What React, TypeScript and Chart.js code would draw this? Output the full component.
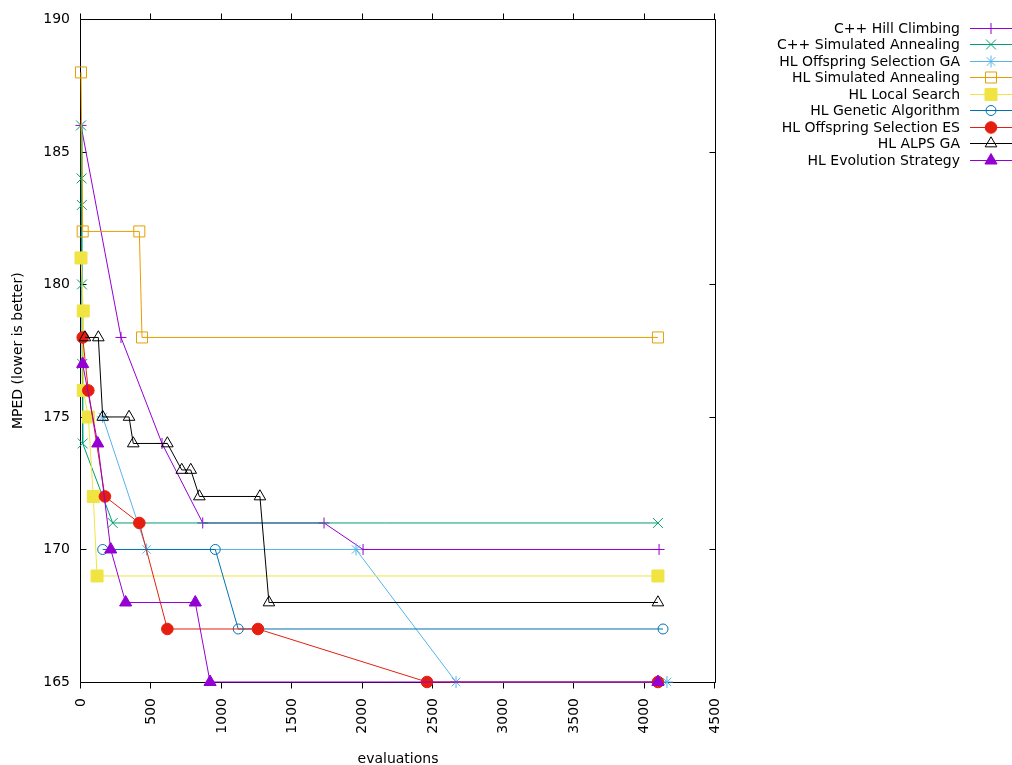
import React, { useEffect, useRef } from 'react';
import { Chart, registerables } from 'chart.js';

Chart.register(...registerables);

const FONT_FAMILY = '"DejaVu Sans", "Liberation Sans", sans-serif';
const FONT_SIZE = 14;

// Axis ticks
const xTickValues = [0, 500, 1000, 1500, 2000, 2500, 3000, 3500, 4000, 4500];
const yTickValues = [165, 170, 175, 180, 185, 190];

// Series names, in legend order
const seriesNames = [
  'C++ Hill Climbing',
  'C++ Simulated Annealing',
  'HL Offspring Selection GA',
  'HL Simulated Annealing',
  'HL Local Search',
  'HL Genetic Algorithm',
  'HL Offspring Selection ES',
  'HL ALPS GA',
  'HL Evolution Strategy',
];

// Best MPED found after a given number of evaluations
const hillClimbingEvals = [0, 284, 575, 864, 1725, 2002, 4103];
const hillClimbingMped = [186, 178, 174, 171, 171, 170, 170];

const cppAnnealingEvals = [0, 4, 6, 7, 9, 12, 225, 4095];
const cppAnnealingMped = [186, 184, 183, 180, 177, 174, 171, 171];

const osGaEvals = [154, 466, 1952, 2662, 4159];
const osGaMped = [175, 170, 170, 165, 165];

const hlAnnealingEvals = [0, 12, 414, 433, 4095];
const hlAnnealingMped = [188, 182, 182, 178, 178];

const localSearchEvals = [0, 16, 16, 52, 87, 114, 4095];
const localSearchMped = [181, 179, 176, 175, 172, 169, 169];

const geneticEvals = [154, 953, 1116, 4131];
const geneticMped = [170, 170, 167, 167];

const osEsEvals = [12, 52, 170, 414, 613, 1256, 2456, 4095];
const osEsMped = [178, 176, 172, 171, 167, 167, 165, 165];

const alpsEvals = [28, 123, 154, 341, 371, 613, 715, 779, 840, 1270, 1334, 4095];
const alpsMped = [178, 178, 175, 175, 174, 174, 173, 173, 172, 172, 168, 168];

const evoStrategyEvals = [12, 119, 211, 317, 811, 916, 4095];
const evoStrategyMped = [177, 174, 170, 168, 168, 165, 165];

const seriesEvals = [
  hillClimbingEvals, cppAnnealingEvals, osGaEvals, hlAnnealingEvals, localSearchEvals,
  geneticEvals, osEsEvals, alpsEvals, evoStrategyEvals,
];
const seriesMped = [
  hillClimbingMped, cppAnnealingMped, osGaMped, hlAnnealingMped, localSearchMped,
  geneticMped, osEsMped, alpsMped, evoStrategyMped,
];

// Styling per series
const seriesColors = [
  '#9400d3', '#009e73', '#56b4e9', '#e69f00', '#f0e442',
  '#0072b2', '#e51e10', '#000000', '#9400d3',
];
const markerStyles = ['cross', 'crossRot', 'star', 'rect', 'rect', 'circle', 'circle', 'triangle', 'triangle'];
const markerFilled = [false, false, false, false, true, false, true, false, true];
const markerRadius = [5.5, 7, 6, 7.8, 8.5, 5, 5.8, 6.7, 7];

function drawMarker(
  ctx: CanvasRenderingContext2D, style: string, x: number, y: number, r: number,
  color: string, filled: boolean,
) {
  ctx.save();
  ctx.strokeStyle = color;
  ctx.fillStyle = color;
  ctx.lineWidth = 1;
  ctx.beginPath();
  const d = r * Math.SQRT1_2;
  switch (style) {
    case 'cross':
      ctx.moveTo(x - r, y); ctx.lineTo(x + r, y);
      ctx.moveTo(x, y - r); ctx.lineTo(x, y + r);
      ctx.stroke();
      break;
    case 'crossRot':
      ctx.moveTo(x - d, y - d); ctx.lineTo(x + d, y + d);
      ctx.moveTo(x - d, y + d); ctx.lineTo(x + d, y - d);
      ctx.stroke();
      break;
    case 'star':
      ctx.moveTo(x - r, y); ctx.lineTo(x + r, y);
      ctx.moveTo(x, y - r); ctx.lineTo(x, y + r);
      ctx.moveTo(x - d, y - d); ctx.lineTo(x + d, y + d);
      ctx.moveTo(x - d, y + d); ctx.lineTo(x + d, y - d);
      ctx.stroke();
      break;
    case 'rect':
      ctx.rect(x - d, y - d, 2 * d, 2 * d);
      if (filled) ctx.fill();
      ctx.stroke();
      break;
    case 'circle':
      ctx.arc(x, y, r, 0, Math.PI * 2);
      if (filled) ctx.fill();
      ctx.stroke();
      break;
    case 'triangle': {
      let a = 0;
      ctx.moveTo(x + Math.sin(a) * r, y - Math.cos(a) * r);
      a += (2 * Math.PI) / 3;
      ctx.lineTo(x + Math.sin(a) * r, y - Math.cos(a) * r);
      a += (2 * Math.PI) / 3;
      ctx.lineTo(x + Math.sin(a) * r, y - Math.cos(a) * r);
      ctx.closePath();
      if (filled) ctx.fill();
      ctx.stroke();
      break;
    }
  }
  ctx.restore();
}

// Border box with outward x tics, inward y tics, plus axis titles
const framePlugin = {
  id: 'frame',
  beforeDatasetsDraw(chart: any) {
    const { ctx, chartArea, scales } = chart;
    const { left, right, top, bottom } = chartArea;
    const L = Math.round(left) - 0.5;
    const R = Math.round(right) + 0.5;
    const T = Math.round(top) + 0.5;
    const B = Math.round(bottom) + 0.5;
    ctx.save();
    ctx.strokeStyle = '#000';
    ctx.lineWidth = 1;
    ctx.beginPath();
    ctx.rect(L, T, R - L, B - T);
    const tick = 6;
    xTickValues.forEach((v) => {
      const px = Math.round(scales.x.getPixelForValue(v)) - 0.5;
      ctx.moveTo(px, B); ctx.lineTo(px, B + tick);
      ctx.moveTo(px, T); ctx.lineTo(px, T - tick);
    });
    yTickValues.forEach((v) => {
      const py = Math.round(scales.y.getPixelForValue(v)) + 0.5;
      ctx.moveTo(L, py); ctx.lineTo(L + tick, py);
      ctx.moveTo(R, py); ctx.lineTo(R - tick, py);
    });
    ctx.stroke();

    ctx.fillStyle = '#000';
    ctx.font = `${FONT_SIZE}px ${FONT_FAMILY}`;
    ctx.textAlign = 'center';
    ctx.textBaseline = 'middle';
    ctx.fillText('evaluations', (left + right) / 2, 759);
    ctx.translate(18, (top + bottom) / 2);
    ctx.rotate(-Math.PI / 2);
    ctx.fillText('MPED (lower is better)', 0, 0);
    ctx.restore();
  },
};

// Key at the top right: right-aligned text, then a line sample with its marker
const keyPlugin = {
  id: 'key',
  afterDraw(chart: any) {
    const { ctx } = chart;
    ctx.save();
    ctx.font = `${FONT_SIZE}px ${FONT_FAMILY}`;
    ctx.textAlign = 'right';
    ctx.textBaseline = 'middle';
    seriesNames.forEach((name, i) => {
      const y = Math.round(28 + i * 16.46);
      ctx.fillStyle = '#000';
      ctx.fillText(name, 960, y + 1);
      ctx.strokeStyle = seriesColors[i];
      ctx.lineWidth = 1;
      ctx.beginPath();
      ctx.moveTo(970, y + 0.5);
      ctx.lineTo(1012, y + 0.5);
      ctx.stroke();
      drawMarker(ctx, markerStyles[i], 991, y + 0.5, markerRadius[i], seriesColors[i], markerFilled[i]);
    });
    ctx.restore();
  },
};

export default function App() {
  const canvasRef = useRef<HTMLCanvasElement>(null);

  useEffect(() => {
    document.body.style.margin = '0';
    const canvas = canvasRef.current;
    if (!canvas) return;

    const datasets = seriesNames.map((name, i) => ({
      label: name,
      data: seriesEvals[i].map((x, j) => ({ x, y: seriesMped[i][j] })),
      borderColor: seriesColors[i],
      backgroundColor: markerFilled[i] ? seriesColors[i] : 'rgba(0,0,0,0)',
      pointBorderColor: seriesColors[i],
      pointBackgroundColor: markerFilled[i] ? seriesColors[i] : 'rgba(0,0,0,0)',
      pointStyle: markerStyles[i],
      pointRadius: markerRadius[i],
      pointHoverRadius: markerRadius[i],
      pointBorderWidth: 1,
      borderWidth: 1,
      tension: 0,
      fill: false,
      clip: false as any,
      order: seriesNames.length - i,
    }));

    const chart = new Chart(canvas, {
      type: 'line',
      data: { datasets: datasets as any },
      plugins: [framePlugin, keyPlugin],
      options: {
        responsive: false,
        animation: false,
        events: [],
        layout: { padding: { top: 19, right: 297, left: 0, bottom: 0 } },
        plugins: {
          legend: { display: false },
          tooltip: { enabled: false },
          title: { display: false },
        },
        scales: {
          x: {
            type: 'linear',
            min: 0,
            max: 4500,
            grid: { display: false, drawTicks: false, tickLength: 0 },
            border: { display: false },
            afterFit: (s: any) => { s.height = 83; },
            afterBuildTicks: (s: any) => { s.ticks = xTickValues.map((v) => ({ value: v })); },
            ticks: {
              autoSkip: false,
              minRotation: 90,
              maxRotation: 90,
              padding: 16,
              color: '#000',
              font: { family: FONT_FAMILY, size: FONT_SIZE },
              callback: (v: any) => String(v),
            },
          },
          y: {
            type: 'linear',
            min: 165,
            max: 190,
            grid: { display: false, drawTicks: false, tickLength: 0 },
            border: { display: false },
            afterFit: (s: any) => { s.width = 81; },
            afterBuildTicks: (s: any) => { s.ticks = yTickValues.map((v) => ({ value: v })); },
            ticks: {
              padding: 11,
              color: '#000',
              font: { family: FONT_FAMILY, size: FONT_SIZE },
              callback: (v: any) => String(v),
            },
          },
        },
      },
    });

    return () => chart.destroy();
  }, []);

  return <canvas ref={canvasRef} width={1012} height={765} style={{ display: 'block' }} />;
}
